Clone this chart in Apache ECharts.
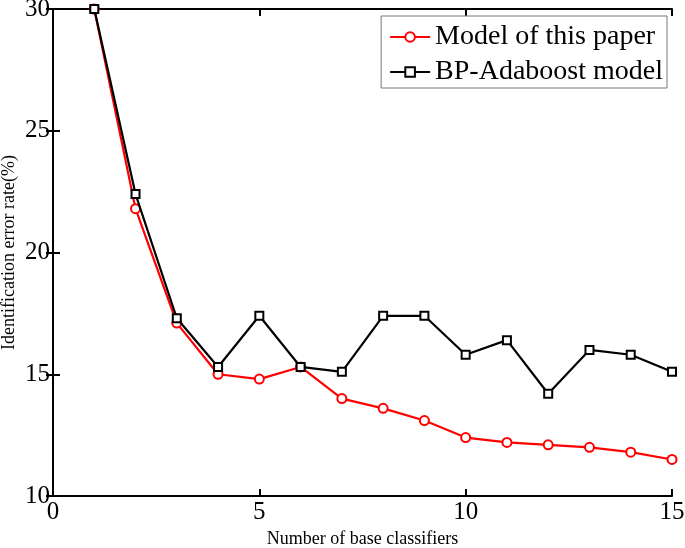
<!DOCTYPE html>
<html><head><meta charset="utf-8">
<script src="https://cdn.jsdelivr.net/npm/echarts@6/dist/echarts.min.js"></script>
<style>html,body{margin:0;padding:0;background:#fff}#c{width:685px;height:548px}</style>
</head><body><div id="c"></div>
<script>
const xValues = [1,2,3,4,5,6,7,8,9,10,11,12,13,14,15];
const modelPaper = [30,21.8,17.1,15.0,14.8,15.3,14.0,13.6,13.1,12.4,12.2,12.1,12.0,11.8,11.5];
const bpAdaboost = [30,22.4,17.3,15.3,17.4,15.3,15.1,17.4,17.4,15.8,16.4,14.2,16.0,15.8,15.1];
const seriesNames = ['Model of this paper','BP-Adaboost model'];
const font = '"Liberation Serif","Times New Roman",serif';

const chart = echarts.init(document.getElementById('c'));
const axBase = {
  type:'value', axisLine:{show:true,lineStyle:{color:'#000',width:2}},
  axisTick:{show:true,inside:true,length:7,lineStyle:{color:'#000',width:2}},
  splitLine:{show:false}
};
chart.setOption({
  animation:false,
  backgroundColor:'#fff',
  grid:{left:53,right:13,top:9,bottom:52,containLabel:false,outerBoundsMode:'none'},
  legend:{
    right:18, top:16, orient:'vertical',
    backgroundColor:'#fff', borderColor:'#777', borderWidth:1,
    padding:[7,4,2,8], itemGap:7, itemWidth:40, itemHeight:12,
    textStyle:{fontFamily:font,fontSize:28,color:'#000'},
    data:seriesNames
  },
  xAxis:[
    Object.assign({},axBase,{min:0,max:15,interval:5,position:'bottom',
      name:'Number of base classifiers',nameLocation:'middle',nameGap:34,nameMoveOverlap:false,
      nameTextStyle:{fontFamily:font,fontSize:18,color:'#000'},
      axisLabel:{fontFamily:font,fontSize:25,color:'#000',margin:4}}),
    Object.assign({},axBase,{min:0,max:15,interval:5,position:'top',axisLabel:{show:false}})
  ],
  yAxis:[
    Object.assign({},axBase,{min:10,max:30,interval:5,position:'left',
      name:'Identification error rate(%)',nameLocation:'middle',nameGap:35,nameMoveOverlap:false,
      nameTextStyle:{fontFamily:font,fontSize:18,color:'#000'},
      axisLabel:{fontFamily:font,fontSize:25,color:'#000',margin:3}}),
    Object.assign({},axBase,{min:10,max:30,interval:5,position:'right',axisLabel:{show:false}})
  ],
  series:[
    {name:seriesNames[1],type:'line',data:xValues.map((x,i)=>[x,bpAdaboost[i]]),
      symbol:'rect',symbolSize:8,showAllSymbol:true,
      lineStyle:{color:'#000',width:2.2},
      itemStyle:{color:'#fff',borderColor:'#000',borderWidth:2},
      z:3},
    {name:seriesNames[0],type:'line',data:xValues.map((x,i)=>[x,modelPaper[i]]),
      symbol:'circle',symbolSize:9,showAllSymbol:true,
      lineStyle:{color:'#f00',width:2.2},
      itemStyle:{color:'#fff',borderColor:'#f00',borderWidth:2},
      z:2}
  ]
});
</script></body></html>
